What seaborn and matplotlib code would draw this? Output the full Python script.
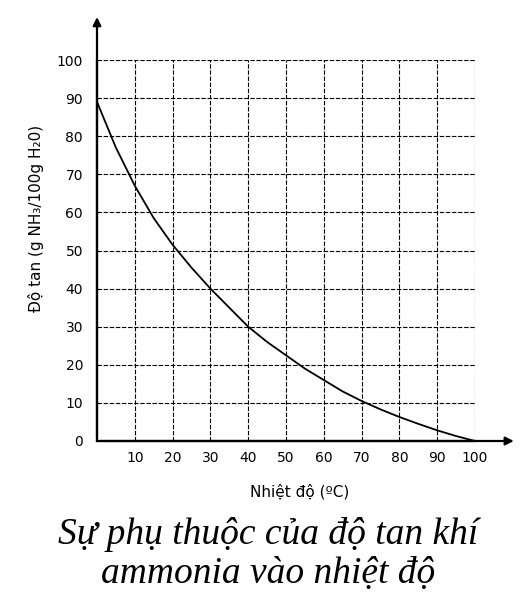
import matplotlib
matplotlib.use("Agg")
import matplotlib.pyplot as plt
import seaborn as sns
import pandas as pd

sns.set_theme(style="white")
plt.rcParams['font.family'] = ['DejaVu Sans']

# readings
temperature = [0, 5, 10, 15, 20, 25, 30, 35, 40, 45, 50, 55, 60, 65, 70, 75, 80, 85, 90, 95, 100]
solubility = [89, 77, 67, 58.5, 51.5, 45.5, 40, 35, 30, 26, 22.5, 19, 16, 13, 10.5, 8.3, 6.3, 4.5, 2.8, 1.3, 0]
x_ticks = [10, 20, 30, 40, 50, 60, 70, 80, 90, 100]
y_ticks = [0, 10, 20, 30, 40, 50, 60, 70, 80, 90, 100]

df = pd.DataFrame({'T': temperature, 'S': solubility})

fig = plt.figure(figsize=(5.28, 6.03), dpi=100)
ax = fig.add_axes([97 / 528, 1 - 441 / 603, (475 - 97) / 528, (441 - 60) / 603])

sns.lineplot(data=df, x='T', y='S', ax=ax, color='black', linewidth=1.3)

ax.set_xlim(0, 100)
ax.set_ylim(0, 100)
ax.set_xticks(x_ticks)
ax.set_yticks(y_ticks)
ax.tick_params(length=0, labelsize=10, colors='black')
ax.tick_params(axis='x', pad=7)
ax.tick_params(axis='y', pad=10)
ax.grid(True, color='black', linestyle=(0, (4, 1.5)), linewidth=0.8)

for s in ['top', 'right']:
    ax.spines[s].set_visible(False)
for s in ['left', 'bottom']:
    ax.spines[s].set_color('black')
    ax.spines[s].set_linewidth(1.6)

# axis arrows
ax.annotate('', xy=(111, 0), xytext=(0, 0), xycoords='data', annotation_clip=False,
            arrowprops=dict(arrowstyle='-|>', color='black', lw=1.6, mutation_scale=12))
ax.annotate('', xy=(0, 112), xytext=(0, 0), xycoords='data', annotation_clip=False,
            arrowprops=dict(arrowstyle='-|>', color='black', lw=1.6, mutation_scale=12))

ax.set_xlabel('Nhiệt độ (ºC)', fontsize=11, color='black')
ax.xaxis.set_label_coords((300 - 97) / 378, -(484 - 441) / 381)
ax.set_ylabel('Độ tan (g NH₃/100g H₂0)', fontsize=11, color='black')
ax.yaxis.set_label_coords(-(97 - 44) / 378, (441 - 218) / 381)

fig.text(0.507, 1 - 554 / 603, 'Sự phụ thuộc của độ tan khí\nammonia vào nhiệt độ',
         ha='center', va='center', fontsize=27, style='italic', color='black',
         family=['Liberation Serif', 'DejaVu Serif'], linespacing=1.2)

fig.savefig('out.png', dpi=100)
